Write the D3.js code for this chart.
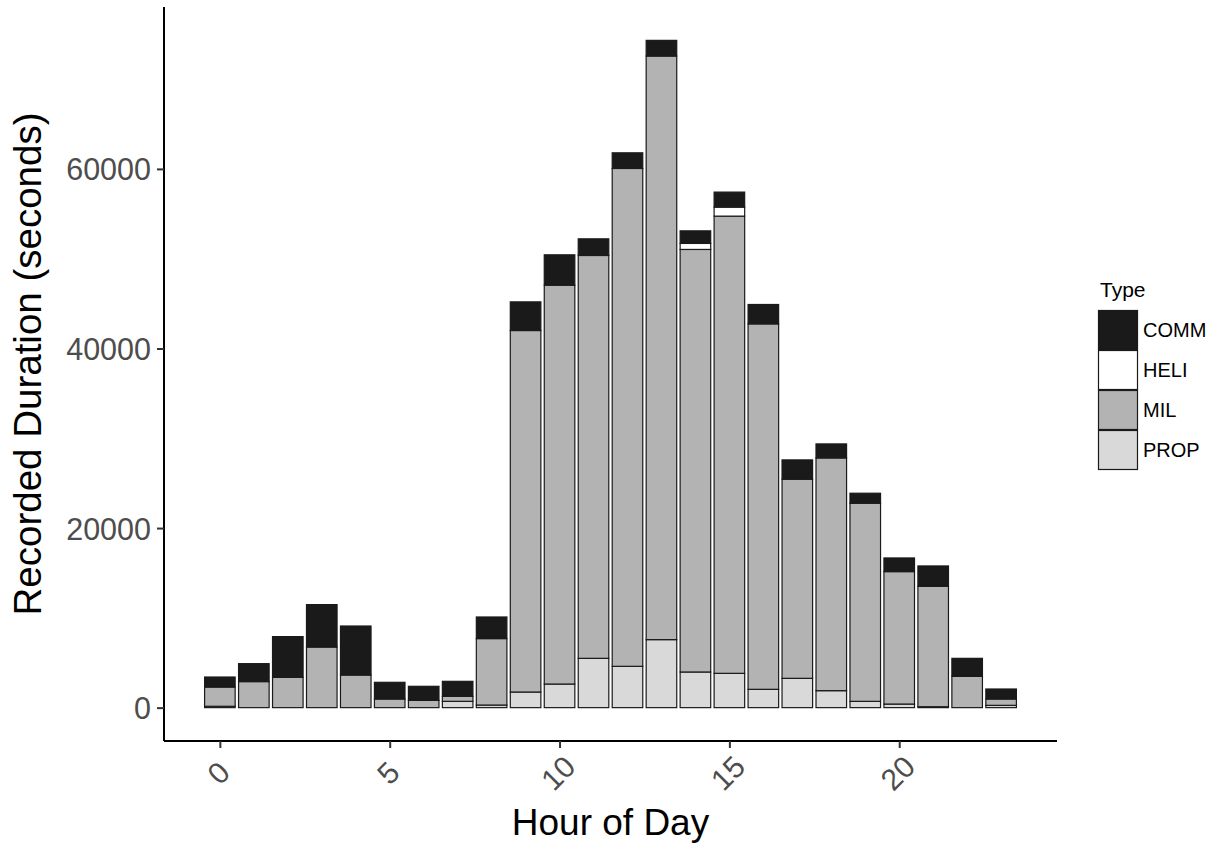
<!DOCTYPE html>
<html>
<head>
<meta charset="utf-8">
<script src="https://cdn.jsdelivr.net/npm/d3@7"></script>
<style>
  body { margin: 0; background: #fff; }
  svg { font-family: Arial, "Liberation Sans", sans-serif; }
</style>
</head>
<body>
<svg id="chart" width="1217" height="845"></svg>
<script>
// Data (seconds per hour of day, split by aircraft type)
const hours = d3.range(0, 24);
const types = ["COMM", "HELI", "MIL", "PROP"];
const comm = [1115, 2000, 4535, 4725, 5460, 1860, 1560, 1670, 2405, 3190, 3380, 1850,
              1740, 1745, 1400, 1670, 2160, 2150, 1560, 1115, 1520, 2265, 2000, 1115];
const heli = [0, 0, 0, 0, 0, 0, 0, 0, 0, 0, 0, 0,
              0, 0, 670, 1005, 0, 0, 0, 0, 0, 0, 0, 0];
const mil  = [2145, 2900, 3375, 6750, 3630, 960, 815, 560, 7400, 40260, 44420, 44870,
              55450, 64995, 47060, 50920, 40700, 22175, 25920, 22065, 14750, 13415, 3490, 705];
const prop = [150, 0, 0, 0, 0, 0, 0, 700, 290, 1740, 2630, 5490,
              4600, 7575, 3970, 3820, 2040, 3265, 1890, 700, 400, 100, 0, 255];
const yTicks = [0, 20000, 40000, 60000];
const xTicks = [0, 5, 10, 15, 20];

const fills = { COMM: "#1a1a1a", HELI: "#ffffff", MIL: "#b3b3b3", PROP: "#d9d9d9" };

// Table for the stack
const rows = hours.map((h, i) => ({ hour: h, COMM: comm[i], HELI: heli[i], MIL: mil[i], PROP: prop[i] }));

const svg = d3.select("#chart");
const panel = { left: 164, right: 1057, top: 7, bottom: 741 };

// stack bottom to top: PROP, MIL, HELI, COMM
const series = d3.stack().keys(["PROP", "MIL", "HELI", "COMM"])(rows);
const yMax = d3.max(rows, d => d.COMM + d.HELI + d.MIL + d.PROP);

// ggplot style 5% expansion
const x = d3.scaleLinear()
    .domain([-0.45 - 23.9 * 0.05, 23.45 + 23.9 * 0.05])
    .range([panel.left, panel.right]);
const y = d3.scaleLinear()
    .domain([-yMax * 0.05, yMax * 1.05])
    .range([panel.bottom, panel.top]);

const barW = x(0.9) - x(0);

// Bars
svg.append("g")
  .selectAll("g")
  .data(series)
  .join("g")
    .attr("fill", s => fills[s.key])
  .selectAll("rect")
  .data(s => s.filter(d => d[1] - d[0] > 0))
  .join("rect")
    .attr("x", d => x(d.data.hour) - barW / 2)
    .attr("y", d => y(d[1]))
    .attr("width", barW)
    .attr("height", d => y(d[0]) - y(d[1]))
    .attr("stroke", "#1a1a1a")
    .attr("stroke-width", 1.2);

// Y axis
const yAxis = svg.append("g")
    .attr("transform", `translate(${panel.left},0)`)
    .call(d3.axisLeft(y).tickValues(yTicks).tickSize(7).tickPadding(6).tickFormat(d3.format("d")));
yAxis.select(".domain").attr("d", `M0,${panel.top}V${panel.bottom}`).attr("stroke", "#000").attr("stroke-width", 2);
yAxis.selectAll(".tick line").attr("stroke", "#333").attr("stroke-width", 2);
yAxis.selectAll(".tick text")
    .attr("fill", "#4d4d4d")
    .style("font-size", "30.5px")
    .attr("dy", "0.36em");

// X axis
const xAxis = svg.append("g")
    .attr("transform", `translate(0,${panel.bottom})`)
    .call(d3.axisBottom(x).tickValues(xTicks).tickSize(7).tickFormat(d3.format("d")));
xAxis.select(".domain").attr("d", `M${panel.left},0H${panel.right}`).attr("stroke", "#000").attr("stroke-width", 2);
xAxis.selectAll(".tick line").attr("stroke", "#333").attr("stroke-width", 2);
xAxis.selectAll(".tick text")
    .attr("fill", "#4d4d4d")
    .style("font-size", "30px")
    .attr("y", 0)
    .attr("dy", 0)
    .attr("text-anchor", "middle")
    .attr("dominant-baseline", "central")
    .attr("transform", "translate(-2,32) rotate(-45)");

// Axis titles
svg.append("text")
    .attr("x", (panel.left + panel.right) / 2)
    .attr("y", 835)
    .attr("text-anchor", "middle")
    .style("font-size", "37px")
    .attr("fill", "#000")
    .text("Hour of Day");

svg.append("text")
    .attr("transform", `translate(41,${(panel.top + panel.bottom) / 2 - 10}) rotate(-90)`)
    .attr("text-anchor", "middle")
    .style("font-size", "38.5px")
    .attr("fill", "#000")
    .text("Recorded Duration (seconds)");

// Legend
const legend = svg.append("g").attr("transform", "translate(1098,310)");
legend.append("text")
    .attr("x", 2)
    .attr("y", -13)
    .style("font-size", "21px")
    .attr("fill", "#000")
    .text("Type");
const item = legend.selectAll("g.item")
  .data(types)
  .join("g")
    .attr("class", "item")
    .attr("transform", (d, i) => `translate(0,${i * 40})`);
item.append("rect")
    .attr("x", 0.5)
    .attr("y", 0.5)
    .attr("width", 39)
    .attr("height", 39)
    .attr("fill", d => fills[d])
    .attr("stroke", "#1a1a1a")
    .attr("stroke-width", 1.2);
item.append("text")
    .attr("x", 45)
    .attr("y", 20)
    .attr("dy", "0.36em")
    .style("font-size", "20px")
    .attr("fill", "#000")
    .text(d => d);
</script>
</body>
</html>
